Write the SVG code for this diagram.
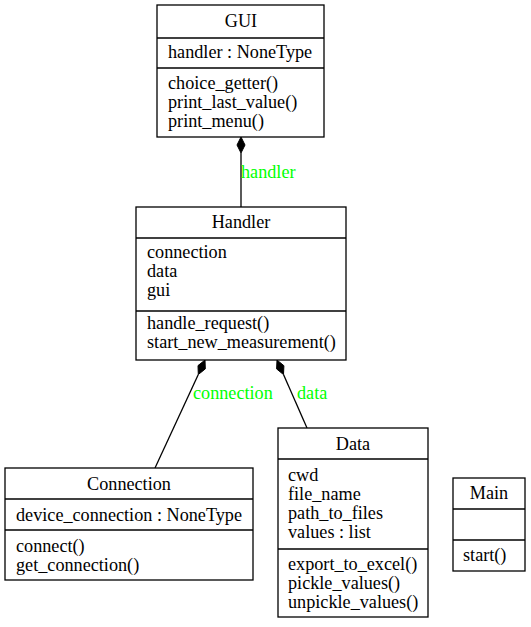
<svg xmlns="http://www.w3.org/2000/svg" width="531" height="627" viewBox="0 0 531 627">
  <style>
    .box { fill: #ffffff; stroke: #000000; stroke-width: 1.3; }
    .sep { stroke: #000000; stroke-width: 1.3; }
    text { font-family: 'Liberation Serif', 'DejaVu Serif', serif; font-size: 18.2px; fill: #000000; }
    .title { text-anchor: middle; }
    .edge { stroke: #000000; stroke-width: 1.3; fill: none; }
    .head { fill: #000000; stroke: #000000; stroke-width: 1; }
    .lbl { fill: #00ff00; }
  </style>
  <rect width="531" height="627" fill="#ffffff"/>

  <g id="connectors">
    <line class="edge" x1="241" y1="153" x2="241" y2="207"/>
    <polygon class="head" points="241,137 245,145 241,153 237,145"/>
    <text class="lbl" x="241" y="178">handler</text>

    <line class="edge" x1="198.3" y1="374.5" x2="155" y2="468"/>
    <polygon class="head" points="205,360 205.3,368.9 198.3,374.5 198,365.6"/>
    <text class="lbl" x="193" y="399">connection</text>

    <line class="edge" x1="283.5" y1="374.6" x2="307" y2="428"/>
    <polygon class="head" points="277,360 283.9,365.7 283.5,374.6 276.6,368.9"/>
    <text class="lbl" x="297" y="399">data</text>
  </g>

  <g id="GUI">
    <rect class="box" x="157" y="5" width="167" height="132"/>
    <line class="sep" x1="157" y1="38" x2="324" y2="38"/>
    <line class="sep" x1="157" y1="68" x2="324" y2="68"/>
    <text class="title" x="241" y="27">GUI</text>
    <text x="168" y="58">handler : NoneType</text>
    <text x="168" y="89">choice_getter()</text>
    <text x="168" y="108">print_last_value()</text>
    <text x="168" y="127">print_menu()</text>
  </g>

  <g id="Handler">
    <rect class="box" x="136" y="207" width="210" height="153"/>
    <line class="sep" x1="136" y1="238" x2="346" y2="238"/>
    <line class="sep" x1="136" y1="311" x2="346" y2="311"/>
    <text class="title" x="241" y="228">Handler</text>
    <text x="147" y="258">connection</text>
    <text x="147" y="277">data</text>
    <text x="147" y="296">gui</text>
    <text x="147" y="329">handle_request()</text>
    <text x="147" y="348">start_new_measurement()</text>
  </g>

  <g id="Connection">
    <rect class="box" x="5" y="468" width="248" height="112"/>
    <line class="sep" x1="5" y1="499" x2="253" y2="499"/>
    <line class="sep" x1="5" y1="530" x2="253" y2="530"/>
    <text class="title" x="129" y="490">Connection</text>
    <text x="16" y="521">device_connection : NoneType</text>
    <text x="16" y="552">connect()</text>
    <text x="16" y="571">get_connection()</text>
  </g>

  <g id="Data">
    <rect class="box" x="278" y="428" width="150" height="189"/>
    <line class="sep" x1="278" y1="459" x2="428" y2="459"/>
    <line class="sep" x1="278" y1="549" x2="428" y2="549"/>
    <text class="title" x="353" y="450">Data</text>
    <text x="288" y="481">cwd</text>
    <text x="288" y="500">file_name</text>
    <text x="288" y="519">path_to_files</text>
    <text x="288" y="538">values : list</text>
    <text x="288" y="570">export_to_excel()</text>
    <text x="288" y="589">pickle_values()</text>
    <text x="288" y="608">unpickle_values()</text>
  </g>

  <g id="Main">
    <rect class="box" x="453" y="478" width="72" height="93"/>
    <line class="sep" x1="453" y1="509" x2="525" y2="509"/>
    <line class="sep" x1="453" y1="540" x2="525" y2="540"/>
    <text class="title" x="489" y="499">Main</text>
    <text x="463" y="561">start()</text>
  </g>
</svg>
